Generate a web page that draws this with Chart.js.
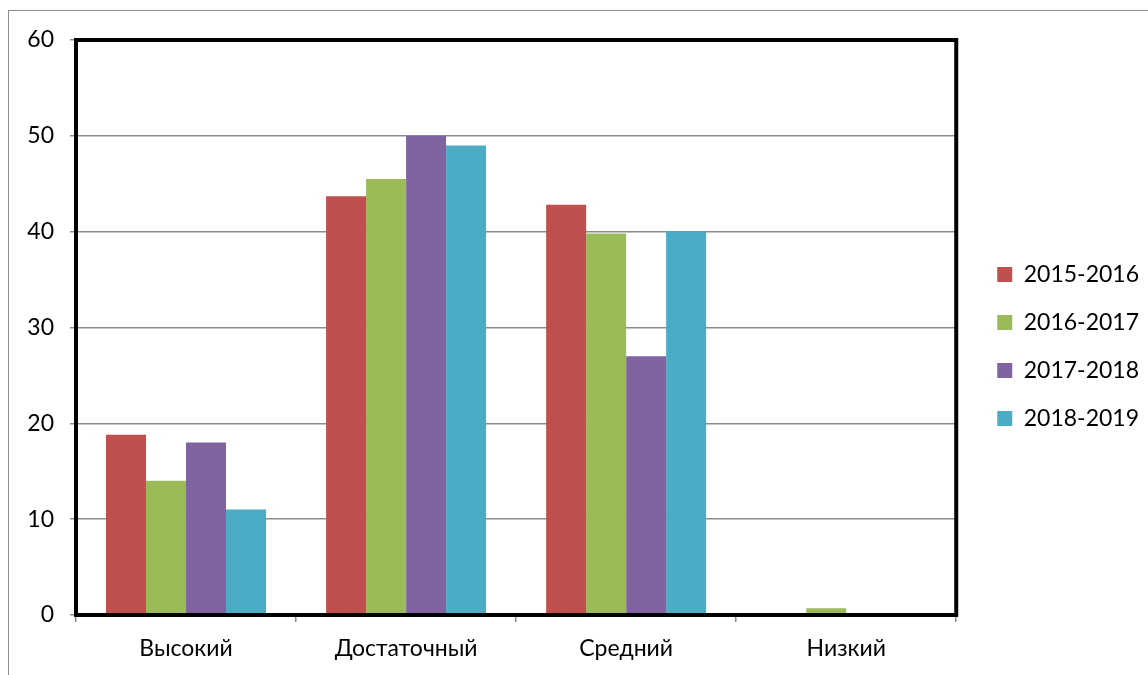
<!DOCTYPE html>
<html>
<head>
<meta charset="utf-8">
<script src="https://cdn.jsdelivr.net/npm/chart.js@4.4.1/dist/chart.umd.min.js"></script>
<style>
  html, body { margin: 0; padding: 0; background: #fff; width: 1148px; height: 675px; overflow: hidden; }
  #frame { position: absolute; left: 8px; top: 10px; width: 1140px; height: 665px;
           border-left: 1.5px solid #8c8c8c; border-top: 1.5px solid #8c8c8c; box-sizing: border-box; }
  #wrap { position: absolute; left: 8px; top: 10px; width: 1140px; height: 665px; }
</style>
</head>
<body>
<div id="frame"></div>
<div id="wrap"><canvas id="c"></canvas></div>
<script>
const categories = ['Высокий', 'Достаточный', 'Средний', 'Низкий'];
const seriesNames = ['2015-2016', '2016-2017', '2017-2018', '2018-2019'];
const values2015 = [18.8, 43.7, 42.8, 0.2];
const values2016 = [14, 45.5, 39.8, 0.7];
const values2017 = [18, 50, 27, 0];
const values2018 = [11, 49, 40, 0];
const seriesColors = ['#C0504D', '#9BBB59', '#8064A2', '#4BACC6'];
const yMin = 0, yMax = 60, yStep = 10;

const FONT = "Lato, 'Open Sans', sans-serif";
const allValues = [values2015, values2016, values2017, values2018];

const frameBorder = {
  id: 'frameBorder',
  afterDatasetsDraw(chart) {
    const a = chart.chartArea, ctx = chart.ctx;
    ctx.save();
    ctx.strokeStyle = '#000';
    ctx.lineWidth = 4;
    ctx.strokeRect(a.left, a.top, a.right - a.left, a.bottom - a.top);
    ctx.restore();
  }
};

const legendShift = {
  id: 'legendShift',
  afterLayout(chart) {
    const lg = chart.legend;
    const dx = (chart.chartArea.right + 41 - lg.options.labels.padding) - lg.left;
    lg.left += dx; lg.right += dx;
    lg.top -= 11; lg.bottom -= 11;
  }
};

new Chart(document.getElementById('c'), {
  type: 'bar',
  data: {
    labels: categories,
    datasets: seriesNames.map((n, i) => ({
      label: n,
      data: allValues[i],
      backgroundColor: seriesColors[i],
      borderWidth: 0,
      categoryPercentage: 0.727,
      barPercentage: 1.0
    }))
  },
  options: {
    responsive: true,
    maintainAspectRatio: false,
    animation: false,
    layout: { padding: { top: 30, right: 15, bottom: 0, left: 0 } },
    plugins: {
      tooltip: { enabled: false },
      legend: {
        position: 'right',
        labels: {
          boxWidth: 15, boxHeight: 15, padding: 25,
          color: '#000',
          font: { family: FONT, size: 23 }
        }
      }
    },
    scales: {
      x: {
        grid: { offset: true, drawOnChartArea: false, drawTicks: true, tickLength: 7,
                color: '#8c8c8c', tickColor: '#8c8c8c', lineWidth: 1.5 },
        border: { display: false },
        ticks: { color: '#000', font: { family: FONT, size: 23 }, padding: 13, maxRotation: 0 },
        afterFit(s) { s.height = 60; }
      },
      y: {
        min: yMin, max: yMax,
        grid: { color: '#8c8c8c', tickColor: '#8c8c8c', lineWidth: 1.5, tickLength: 6 },
        border: { display: false },
        ticks: { stepSize: yStep, color: '#000', font: { family: FONT, size: 23 }, padding: 16 },
        afterFit(s) { s.width = 68; }
      }
    }
  },
  plugins: [frameBorder, legendShift]
});
</script>
</body>
</html>
